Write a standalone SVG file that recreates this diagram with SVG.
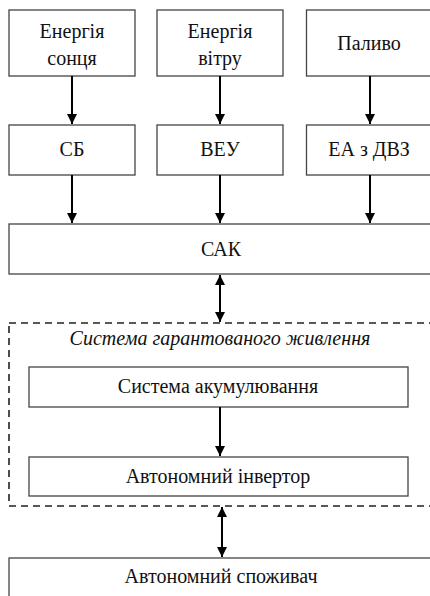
<svg xmlns="http://www.w3.org/2000/svg" width="430" height="596" viewBox="0 0 430 596">
<style>
.box{fill:#fff;stroke:#444;stroke-width:1.3}
.dash{fill:none;stroke:#222;stroke-width:1.6;stroke-dasharray:7,5}
.t{font-family:"Liberation Serif","Times New Roman",serif;font-size:20px;fill:#111;text-anchor:middle}
.ti{font-style:italic}
.c{stroke:#000;stroke-width:2;fill:none}
</style>
<defs>
<marker id="ah" viewBox="0 0 10 10" refX="10" refY="5" markerWidth="10" markerHeight="11" markerUnits="userSpaceOnUse" orient="auto-start-reverse">
<path d="M0,0 L10,5 L0,10 z" fill="#000"/>
</marker>
</defs>
<rect width="430" height="596" fill="#fff"/>
<g id="sun"><rect class="box" x="9" y="10" width="126" height="66"/><text class="t" x="72" y="38">Енергія</text><text class="t" x="72" y="65">сонця</text></g>
<g id="wind"><rect class="box" x="157" y="10" width="126" height="66"/><text class="t" x="220" y="38">Енергія</text><text class="t" x="220" y="65">вітру</text></g>
<g id="fuel"><rect class="box" x="306.5" y="10" width="140" height="66"/><text class="t" x="369" y="50">Паливо</text></g>
<g id="sb"><rect class="box" x="9" y="125" width="126" height="50"/><text class="t" x="72" y="156">СБ</text></g>
<g id="veu"><rect class="box" x="157" y="125" width="126" height="50"/><text class="t" x="220" y="156">ВЕУ</text></g>
<g id="ea"><rect class="box" x="306.5" y="125" width="140" height="50"/><text class="t" x="369" y="156">ЕА з ДВЗ</text></g>
<g id="sak"><rect class="box" x="9" y="224" width="440" height="50"/><text class="t" x="221" y="256">САК</text></g>
<g id="sgz"><rect class="dash" x="9" y="323" width="440" height="183"/><text class="t ti" x="220" y="345">Система гарантованого живлення</text></g>
<g id="acc"><rect class="box" x="29" y="367" width="379" height="40"/><text class="t" x="218" y="393">Система акумулювання</text></g>
<g id="inv"><rect class="box" x="29" y="457" width="379" height="39"/><text class="t" x="218" y="483">Автономний інвертор</text></g>
<g id="cons"><rect class="box" x="9" y="558" width="440" height="60"/><text class="t" x="221" y="583">Автономний споживач</text></g>
<g id="connectors">
<line class="c" x1="72" y1="76" x2="72" y2="124" marker-end="url(#ah)"/>
<line class="c" x1="220" y1="76" x2="220" y2="124" marker-end="url(#ah)"/>
<line class="c" x1="370" y1="76" x2="370" y2="124" marker-end="url(#ah)"/>
<line class="c" x1="72" y1="175" x2="72" y2="223" marker-end="url(#ah)"/>
<line class="c" x1="220" y1="175" x2="220" y2="223" marker-end="url(#ah)"/>
<line class="c" x1="370" y1="175" x2="370" y2="223" marker-end="url(#ah)"/>
<line class="c" x1="220" y1="275" x2="220" y2="322" marker-start="url(#ah)" marker-end="url(#ah)"/>
<line class="c" x1="220" y1="407" x2="220" y2="456" marker-end="url(#ah)"/>
<line class="c" x1="222" y1="507" x2="222" y2="557" marker-start="url(#ah)" marker-end="url(#ah)"/>
</g>
</svg>
